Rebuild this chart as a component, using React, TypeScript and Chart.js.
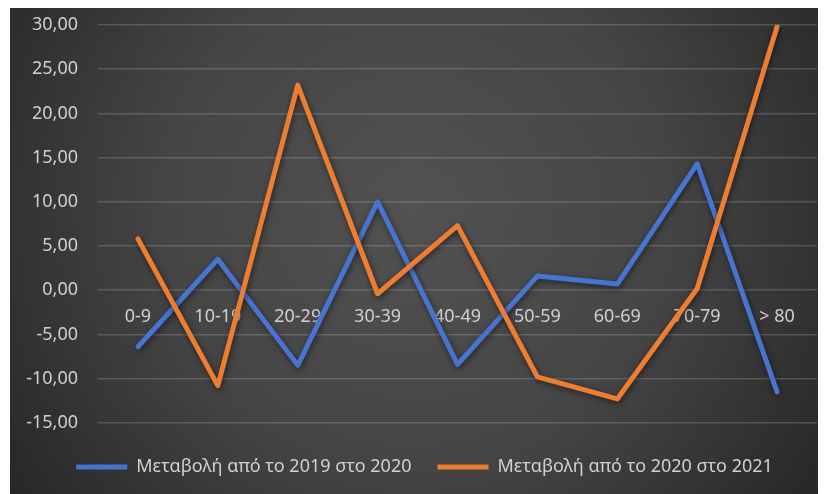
import React, { useEffect, useRef } from "react";
import { Chart, registerables } from "chart.js";

Chart.register(...registerables);

const categories = ["0-9", "10-19", "20-29", "30-39", "40-49", "50-59", "60-69", "70-79", "> 80"];
const series2019to2020 = [-6.4, 3.5, -8.5, 10.0, -8.4, 1.6, 0.7, 14.3, -11.5];
const series2020to2021 = [5.8, -10.8, 23.2, -0.4, 7.3, -9.8, -12.3, 0.2, 29.8];
const seriesNames = ["Μεταβολή από το 2019 στο 2020", "Μεταβολή από το 2020 στο 2021"];
const yMin = -15;
const yMax = 30;
const yStep = 5;

const FONT = "'Noto Sans', 'Open Sans', sans-serif";
const TEXT = "#d0d0d0";

const bgPlugin = {
  id: "bgGradient",
  beforeDraw(chart: any) {
    const { ctx, width, height } = chart;
    ctx.save();
    const g = ctx.createRadialGradient(width * 0.5, height * 0.42, 0, width * 0.5, height * 0.42, Math.max(width, height) * 0.62);
    g.addColorStop(0, "#525252");
    g.addColorStop(0.5, "#454545");
    g.addColorStop(1, "#262626");
    ctx.fillStyle = g;
    ctx.fillRect(0, 0, width, height);
    ctx.restore();
  },
};

const shadowPlugin = {
  id: "lineShadow",
  beforeDatasetsDraw(chart: any) {
    const ctx = chart.ctx;
    ctx.save();
    ctx.shadowColor = "rgba(0,0,0,0.55)";
    ctx.shadowBlur = 6;
    ctx.shadowOffsetX = 1;
    ctx.shadowOffsetY = 2;
  },
  afterDatasetsDraw(chart: any) {
    chart.ctx.restore();
  },
};

// nudge the legend block to the right, as in the original
const legendShiftPlugin = {
  id: "legendShift",
  afterLayout(chart: any) {
    if (chart.legend) chart.legend.left += 22;
  },
};

export default function App() {
  const ref = useRef<HTMLCanvasElement | null>(null);

  useEffect(() => {
    if (!ref.current) return;
    const chart = new Chart(ref.current, {
      type: "line",
      data: {
        labels: categories,
        datasets: [
          {
            label: seriesNames[0],
            data: series2019to2020,
            borderColor: "#4674cf",
            backgroundColor: "#4674cf",
            borderWidth: 5,
            pointRadius: 0,
            tension: 0,
            borderJoinStyle: "round",
            borderCapStyle: "round",
            order: 1,
          },
          {
            label: seriesNames[1],
            data: series2020to2021,
            borderColor: "#ed7d31",
            backgroundColor: "#ed7d31",
            borderWidth: 5,
            pointRadius: 0,
            tension: 0,
            borderJoinStyle: "round",
            borderCapStyle: "round",
            order: 0,
          },
        ],
      },
      options: {
        animation: false,
        responsive: true,
        maintainAspectRatio: false,
        layout: { padding: { top: 17, right: 1, left: 0, bottom: 8 } },
        plugins: {
          tooltip: { enabled: false },
          legend: {
            position: "bottom",
            title: { display: true, text: "", font: { size: 1 }, padding: { top: 8, bottom: 0 } },
            labels: {
              color: TEXT,
              font: { family: FONT, size: 18 },
              boxWidth: 51,
              boxHeight: 5,
              padding: 26,
              sort: (a: any, b: any) => a.datasetIndex - b.datasetIndex,
              generateLabels: (chart: any) =>
                chart.data.datasets.map((ds: any, i: number) => ({
                  text: ds.label,
                  fillStyle: ds.borderColor,
                  strokeStyle: ds.borderColor,
                  lineWidth: 0,
                  fontColor: TEXT,
                  hidden: false,
                  datasetIndex: i,
                })),
            },
          },
        },
        scales: {
          x: {
            type: "category",
            position: { y: 0 } as any,
            offset: true,
            grid: { display: false, drawTicks: false },
            border: { display: false },
            ticks: { color: TEXT, font: { family: FONT, size: 18 }, padding: 16, maxRotation: 0, autoSkip: false },
          },
          y: {
            min: yMin,
            max: yMax,
            grid: {
              color: "rgba(210,210,210,0.22)",
              lineWidth: 1.5,
              drawTicks: true,
              tickLength: 20,
              tickColor: "rgba(0,0,0,0)",
            },
            border: { display: false },
            ticks: {
              stepSize: yStep,
              color: TEXT,
              font: { family: FONT, size: 18 },
              padding: 0,
              callback: (v: any) => Number(v).toFixed(2).replace(".", ","),
            },
            afterFit: (scale: any) => {
              scale.width = 88;
            },
          },
        },
      },
      plugins: [bgPlugin, shadowPlugin, legendShiftPlugin],
    });
    return () => chart.destroy();
  }, []);

  return (
    <div style={{ width: 808, height: 486, marginLeft: 2, position: "relative" }}>
      <canvas ref={ref} />
    </div>
  );
}
